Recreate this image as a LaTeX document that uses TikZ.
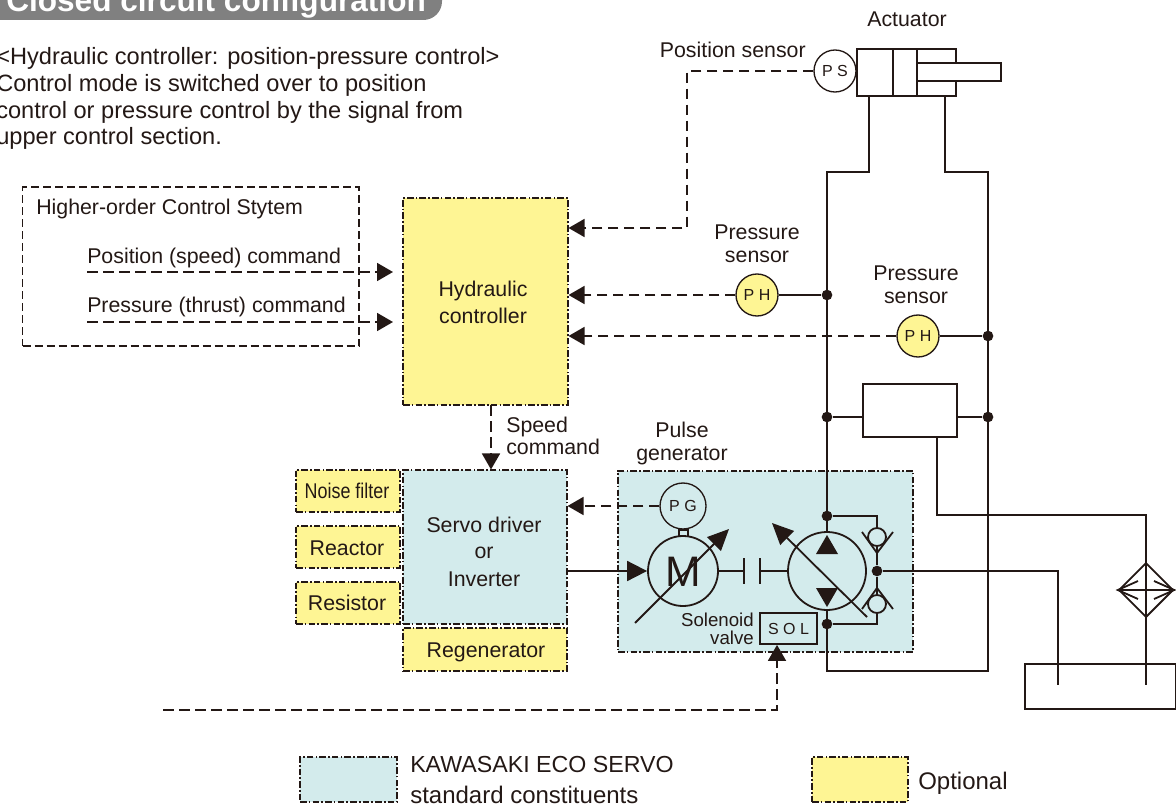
\documentclass[tikz,border=0pt]{standalone}
\usepackage{fontspec}
\setmainfont{Liberation Sans}
\usetikzlibrary{arrows.meta,shapes.geometric,calc}
\definecolor{ink}{HTML}{231815}
\definecolor{cyanbox}{HTML}{D3EBEC}
\definecolor{yellowbox}{HTML}{FEF594}
\definecolor{pill}{HTML}{808080}
\newcommand\boxn[6]{%
  \pgfmathsetmacro\bw{(#5-#3)*.75}\pgfmathsetmacro\bh{(#6-#4)*.75}%
  \pgfmathsetmacro\bx{(#3+#5)/2}\pgfmathsetmacro\by{(#4+#6)/2}%
  \node[#1,minimum width=\bw pt,minimum height=\bh pt] (#2) at (\bx,\by) {};}
\tikzset{
  base font/.style={font=\fontsize{16}{19}\selectfont},
  txt/.style={base font,text=ink,inner sep=0pt,anchor=base,align=center},
  txtl/.style={base font,text=ink,inner sep=0pt,anchor=base west},
  txtr/.style={base font,text=ink,inner sep=0pt,anchor=base east},
  dashdot/.style={draw=ink,line width=.8pt,dash pattern=on 5pt off 1.6pt on 1.2pt off 1.6pt,inner sep=0pt},
  cyanpart/.style={dashdot,fill=cyanbox},
  yellowpart/.style={dashdot,fill=yellowbox},
  pipe/.style={draw=ink,line width=1.35pt},
  solidbox/.style={draw=ink,line width=1.35pt,inner sep=0pt},
  sig/.style={draw=ink,line width=1.35pt,dash pattern=on 8pt off 4pt},
  head/.style={-{Triangle[length=12pt,width=13.5pt,color=ink]}},
  dot/.style={circle,fill=ink,draw=none,inner sep=0pt,minimum size=8pt},
  sensor/.style={circle,draw=ink,line width=1pt,inner sep=0pt,minimum size=31.5pt,text=ink,font=\fontsize{12}{14}\selectfont},
  tri/.style={fill=ink,draw=none},
  intro/.style={text=ink,inner sep=0pt,anchor=base west,font=\fontsize{17.7}{21}\selectfont},
  legendtext/.style={text=ink,inner sep=0pt,anchor=base west,font=\fontsize{18}{21}\selectfont},
}
\begin{document}
\begin{tikzpicture}[x=.75pt,y=-.75pt]
\useasboundingbox (0,0) rectangle (1176,806);
\clip (0,0) rectangle (1176,806);
% title
\fill[pill,rounded corners=14pt] (-40,-40) rectangle (442,20);
\node[inner sep=0pt,anchor=base west,text=white,font=\bfseries\fontsize{23.7}{26}\selectfont] (title) at (6,12) {Closed circuit configuration};
% intro
\node[intro] (i1) at (-4,65) {<Hydraulic controller: position-pressure control>};
\node[intro] (i2) at (-4,92) {Control mode is switched over to position};
\node[intro] (i3) at (-4,118) {control or pressure control by the signal from};
\node[intro] (i4) at (-4,145) {upper control section.};
% boxes
\boxn{draw=ink,line width=1pt,dash pattern=on 6pt off 3pt,inner sep=0pt}{hos}{22.5}{187}{359}{346}
\boxn{yellowpart}{hc}{403}{198}{568}{405}
\boxn{cyanpart}{sd}{403}{470}{567}{624}
\boxn{yellowpart}{nf}{296}{470}{400}{512}
\boxn{yellowpart}{re}{296}{526}{400}{568}
\boxn{yellowpart}{rs}{296}{582}{400}{624}
\boxn{yellowpart}{rg}{403}{628}{567}{671}
\boxn{cyanpart}{mp}{618}{471}{913}{652}
\boxn{cyanpart}{lg1}{300}{757}{397}{802}
\boxn{yellowpart}{lg2}{812}{757}{908}{802}
% labels
\node[txtl] (t1) at (36,214) {Higher-order Control Stytem};
\node[txtl] (t2) at (87,263) {Position (speed) command};
\node[txtl] (t3) at (87,312) {Pressure (thrust) command};
\node[txt] (t4a) at (483,296) {Hydraulic};
\node[txt] (t4b) at (483,323) {controller};
\node[txtl] (t5a) at (506,432) {Speed};
\node[txtl] (t5b) at (506,454) {command};
\node[txt] (t6) at (347,498) {\scalebox{.84}[1]{Noise filter}};
\node[txt] (t7) at (347,555) {Reactor};
\node[txt] (t8) at (347,610) {Resistor};
\node[txt] (t9a) at (484,532) {Servo driver};
\node[txt] (t9b) at (484,558) {or};
\node[txt] (t9c) at (484,586) {Inverter};
\node[txt] (t10) at (486,657) {Regenerator};
\node[txt] (t11a) at (682,437) {Pulse};
\node[txt] (t11b) at (682,460) {generator};
\node[txt] (t12) at (907,27) {Actuator};
\node[txtr] (t13) at (806,58) {Position sensor};
\node[txt] (t14a) at (757,239) {Pressure};
\node[txt] (t14b) at (757,262) {sensor};
\node[txt] (t15a) at (916,280) {Pressure};
\node[txt] (t15b) at (916,303) {sensor};
\node[txtr,font=\fontsize{14}{15}\selectfont] (t16a) at (754,626) {Solenoid};
\node[txtr,font=\fontsize{14}{15}\selectfont] (t16b) at (754,644) {valve};
\node[legendtext,font=\fontsize{17.4}{21}\selectfont] (t17a) at (410,772) {KAWASAKI ECO SERVO};
\node[legendtext] (t17b) at (410,803) {standard constituents};
\node[legendtext] (t18) at (918,789) {Optional};
% pipes
\coordinate (cl) at (869,172);
\coordinate (cr) at (945,172);
\coordinate (pl) at (827,172);
\coordinate (pr) at (988,172);
\coordinate (lowl) at (827,671);
\coordinate (lowr) at (988,671);
\boxn{solidbox}{cyl}{857}{49}{956}{96}
\node[dot] (d1) at (827,295) {};
\node[dot] (d2) at (988,336) {};
\node[dot] (d3) at (827,417) {};
\node[dot] (d4) at (988,417) {};
\node[dot] (d5) at (827,516) {};
\node[dot] (d6) at (827,624) {};
\node[dot] (d7) at (877,571) {};
\node[circle,draw=ink,line width=1.35pt,inner sep=0pt,minimum size=58.5pt] (pump) at (827,571) {};
\node[circle,draw=ink,line width=1.35pt,inner sep=0pt,minimum size=52.5pt] (motor) at (683,571) {};
\node[text=ink,inner sep=0pt,anchor=base,font=\fontsize{32}{36}\selectfont] (mlabel) at (683,586) {M};
\draw[pipe] (cyl.south -| cl) -- (cl) -- (pl) -- (pump.north);
\draw[pipe] (pump.south) -- (lowl) -- (lowr) -- (pr) -- (cr) -- (cyl.south -| cr);
\boxn{solidbox,fill=white}{valve}{863}{384}{957}{437}
\draw[pipe] (d3) -- (valve.west |- d3);
\draw[pipe] (d4) -- (valve.east |- d4);
% tank and cooler
\coordinate (r1) at (937,515);
\coordinate (r2) at (1146,515);
\coordinate (r3) at (1146,685);
\coordinate (r4) at (1058,570);
\coordinate (r5) at (1058,685);
\draw[pipe] (valve.south -| r1) -- (r1) -- (r2) -- (r3);
\draw[pipe] (d7) -- (d7 -| r4) -- (r5);
\node[diamond,draw=ink,line width=1.35pt,aspect=1,inner sep=0pt,minimum size=41pt] (cooler) at (1146,590) {};
\draw[pipe] (cooler.west) -- (cooler.east);
\draw[pipe] (1138,581) -- (cooler.west) -- (1138,599);
\draw[pipe] (1154,581) -- (cooler.east) -- (1154,599);
\boxn{solidbox}{tank}{1025}{664}{1175.5}{709}
% sensors
\node[sensor] (ps) at (835,71) {P S};
\node[sensor,fill=yellowbox] (ph1) at (757,295) {P H};
\node[sensor,fill=yellowbox] (ph2) at (918,336) {P H};
\draw[pipe] (ph1) -- (d1);
\draw[pipe] (ph2) -- (d2);
\boxn{solidbox,fill=white}{rod}{917}{63}{1001}{81}
\draw[pipe] (917,49) -- (917,96);
\draw[pipe] (893,49) -- (893,96);
% signal lines
\coordinate (b1) at (687,71);
\coordinate (b2) at (687,228);
\draw[sig,head] (ps.west) -- (b1) -- (b2) -- (hc.east |- b2);
\draw[sig,head] (ph1.west) -- (hc.east |- ph1);
\draw[sig,head] (ph2.west) -- (hc.east |- ph2);
\coordinate (cmd1) at (87,272);
\coordinate (cmd2) at (87,322);
\draw[sig,head] (cmd1) -- (393,272);
\draw[sig,head] (cmd2) -- (393,322);
\coordinate (spd) at (491,405);
\draw[sig,head] (spd) -- (spd |- sd.north);
% motor group
\node[sensor,minimum size=34.5pt] (pg) at (683,506) {P G};
\draw[pipe] (679,529) -- (679,536);
\draw[pipe] (688,529) -- (688,536);
\draw[pipe] (679,530) -- (688,530);
\draw[sig,head] (pg.west) -- (sd.east |- pg);
\draw[pipe,-{Triangle[length=15pt,width=15pt,color=ink]}] (sd.east |- motor) -- (motor.west);
\draw[pipe,-{Triangle[length=16pt,width=14.5pt,color=ink]}] (635,623) -- (729,529);
\draw[pipe,-{Triangle[length=16pt,width=14.5pt,color=ink]}] (867,617) -- (772,523);
% coupling
\coordinate (c1) at (744,571);
\coordinate (c2) at (760,571);
\draw[pipe] (motor.east) -- (c1);
\draw[pipe] (744,558) -- (744,584);
\draw[pipe] (760,558) -- (760,584);
\draw[pipe] (c2) -- (pump.west);
% pump triangles
\fill[tri] (827,535) -- (838,554) -- (816,554) -- cycle;
\fill[tri] (827,607) -- (838,588) -- (816,588) -- cycle;
% check valves
\node[circle,draw=ink,line width=1.35pt,inner sep=0pt,minimum size=13.5pt] (cv1) at (877,537) {};
\node[circle,draw=ink,line width=1.35pt,inner sep=0pt,minimum size=13.5pt] (cv2) at (877,604) {};
\draw[pipe] (d5) -- (d5 -| cv1) -- (cv1.north);
\draw[pipe] (d6) -- (d6 -| cv2) -- (cv2.south);
\draw[pipe] (cv1.south) -- (d7) -- (cv2.north);
\draw[pipe] (862,532) -- (877,553) -- (893,532);
\draw[pipe] (862,609) -- (877,588) -- (893,609);
% solenoid
\boxn{solidbox}{sol}{760}{613}{817}{644}
\node[text=ink,inner sep=0pt,font=\fontsize{12}{14}\selectfont] (sollabel) at (788.5,628.5) {S O L};
\coordinate (f1) at (163,710);
\coordinate (f2) at (777,710);
\draw[sig,head] (f1) -- (f2) -- (f2 |- sol.south);
\end{tikzpicture}
\end{document}
